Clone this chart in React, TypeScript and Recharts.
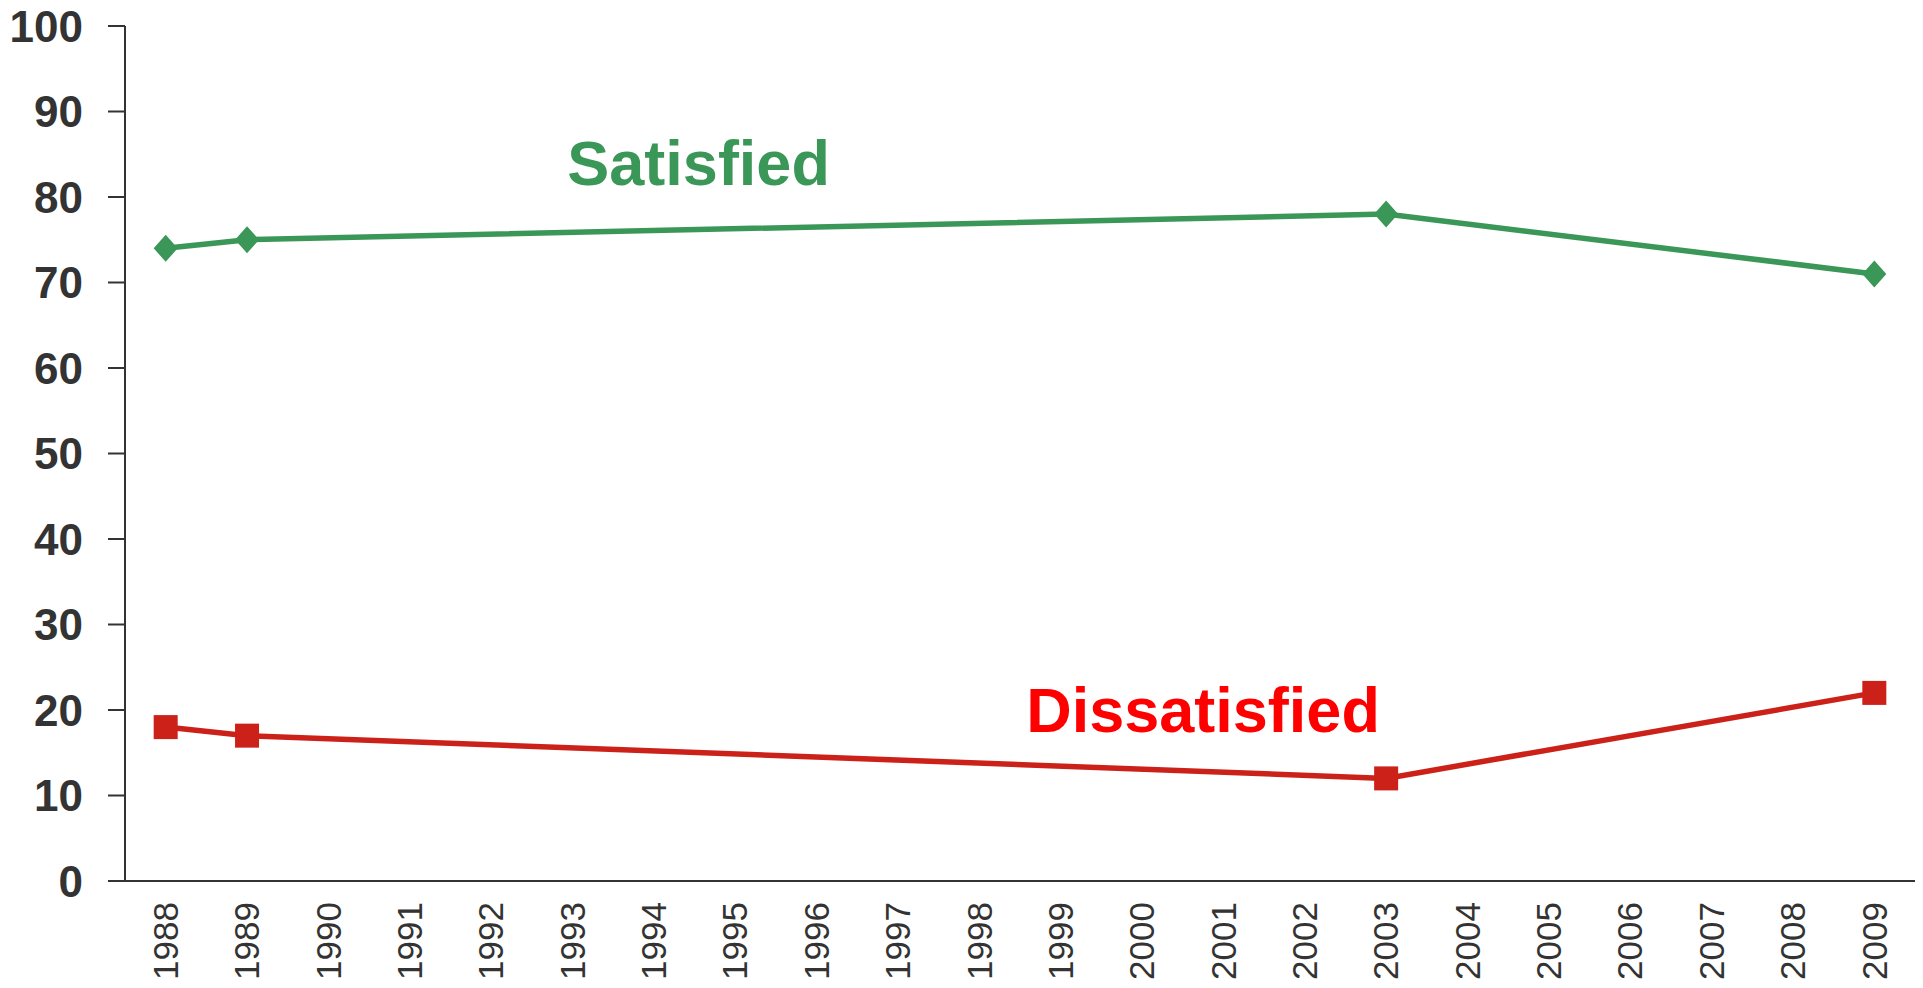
import React from 'react';
import { LineChart, Line, XAxis, YAxis, ReferenceDot } from 'recharts';

// survey years that have data
const years = [1988, 1989, 2003, 2009];
const satisfied = [74, 75, 78, 71];
const dissatisfied = [18, 17, 12, 22];

// every year gets a tick on the x axis
const yearTicks = [
  1988, 1989, 1990, 1991, 1992, 1993, 1994, 1995, 1996, 1997, 1998,
  1999, 2000, 2001, 2002, 2003, 2004, 2005, 2006, 2007, 2008, 2009,
];
const valueTicks = [0, 10, 20, 30, 40, 50, 60, 70, 80, 90, 100];

// series captions placed in data space
const captionText = ['Satisfied', 'Dissatisfied'];
const captionYear = [1994.55, 2000.75];
const captionValue = [84, 20.1];

const GREEN = '#3B9758';
const RED = '#CC2119';
const FONT = '"Liberation Sans", Arial, sans-serif';

const data = years.map((year, i) => ({
  year,
  satisfied: satisfied[i],
  dissatisfied: dissatisfied[i],
}));

const Diamond = (props: any) => {
  const { cx, cy } = props;
  if (cx == null || cy == null) return null;
  const rx = 12;
  const ry = 13.5;
  return (
    <polygon
      points={`${cx},${cy - ry} ${cx + rx},${cy} ${cx},${cy + ry} ${cx - rx},${cy}`}
      fill={GREEN}
    />
  );
};

const Square = (props: any) => {
  const { cx, cy } = props;
  if (cx == null || cy == null) return null;
  const s = 24;
  return <rect x={cx - s / 2} y={cy - s / 2} width={s} height={s} fill={RED} />;
};

const YearTick = (props: any) => {
  const { x, y, payload } = props;
  return (
    <text
      x={x}
      y={y}
      dy="0.35em"
      transform={`rotate(-90 ${x} ${y})`}
      textAnchor="end"
      fontFamily={FONT}
      fontSize={35}
      fill="#333333"
    >
      {payload.value}
    </text>
  );
};

export default function App() {
  return (
    <div style={{ position: 'absolute', left: 0, top: 0, width: 1923, height: 988, background: '#fff' }}>
      <LineChart width={1923} height={988} data={data} margin={{ top: 26, right: 8, left: 0, bottom: 0 }}>
        <XAxis
          dataKey="year"
          type="number"
          domain={[1987.5, 2009.5]}
          allowDataOverflow
          ticks={yearTicks}
          interval={0}
          height={107}
          tickSize={0}
          tickMargin={21}
          tickLine={false}
          axisLine={{ stroke: '#333333', strokeWidth: 2 }}
          tick={<YearTick />}
        />
        <YAxis
          domain={[0, 100]}
          ticks={valueTicks}
          interval={0}
          width={125}
          tickSize={17}
          tickMargin={25}
          axisLine={{ stroke: '#333333', strokeWidth: 2 }}
          tickLine={{ stroke: '#333333', strokeWidth: 2 }}
          tick={{ fontFamily: FONT, fontSize: 44, fontWeight: 'bold', fill: '#333333' }}
        />
        <Line
          dataKey="satisfied"
          stroke={GREEN}
          strokeWidth={5.5}
          dot={<Diamond />}
          activeDot={false}
          isAnimationActive={false}
        />
        <Line
          dataKey="dissatisfied"
          stroke={RED}
          strokeWidth={5.5}
          dot={<Square />}
          activeDot={false}
          isAnimationActive={false}
        />
        {captionText.map((t, i) => (
          <ReferenceDot
            key={t}
            x={captionYear[i]}
            y={captionValue[i]}
            r={0}
            fill="none"
            stroke="none"
            label={{
              value: t,
              position: 'center',
              fontFamily: FONT,
              fontSize: 63,
              fontWeight: 'bold',
              fill: i === 0 ? GREEN : '#FF0000',
            }}
          />
        ))}
      </LineChart>
    </div>
  );
}
